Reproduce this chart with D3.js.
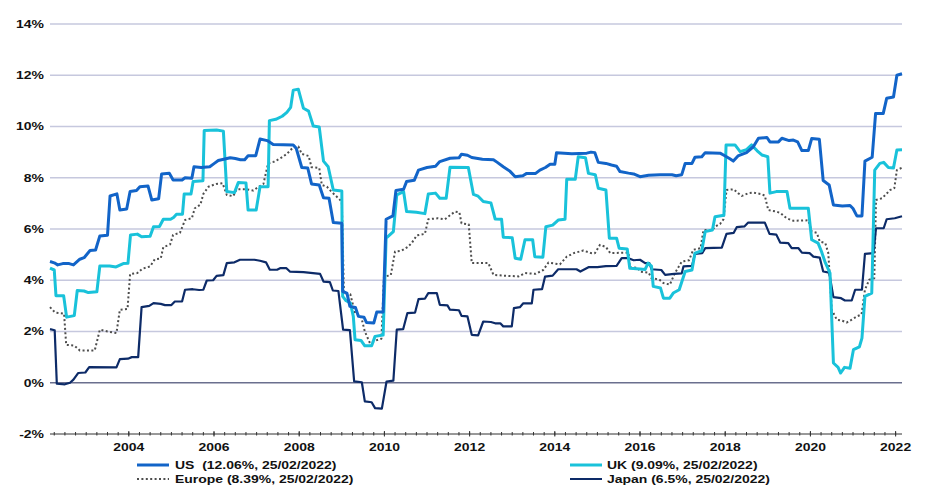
<!DOCTYPE html>
<html>
<head>
<meta charset="utf-8">
<script src="https://cdn.jsdelivr.net/npm/d3@7"></script>
<style>
  html,body{margin:0;padding:0;background:#fff;}
  svg{display:block;}
  text{font-family:"Liberation Sans",Arial,sans-serif;font-weight:bold;fill:#111;white-space:pre;}
</style>
</head>
<body>
<svg id="chart" width="939" height="502"></svg>
<script>
// ---- data (decimal year, % value) ----
const yTicks = [-2, 0, 2, 4, 6, 8, 10, 12, 14];
const xTickYears = [2004, 2006, 2008, 2010, 2012, 2014, 2016, 2018, 2020, 2022];
const seriesNames = ["US", "UK", "Europe", "Japan"];
const legendLabels = ["US  (12.06%, 25/02/2022)", "UK (9.09%, 25/02/2022)", "Europe (8.39%, 25/02/2022)", "Japan (6.5%, 25/02/2022)"];

const US = [[2002.15,4.73],[2002.25,4.68],[2002.33,4.60],[2002.45,4.65],[2002.60,4.65],[2002.70,4.60],[2002.85,4.82],[2002.95,4.88],[2003.09,5.16],[2003.22,5.18],[2003.32,5.73],[2003.50,5.76],[2003.56,7.29],[2003.72,7.37],[2003.79,6.74],[2003.95,6.78],[2004.03,7.46],[2004.18,7.50],[2004.26,7.65],[2004.45,7.68],[2004.54,7.13],[2004.70,7.18],[2004.77,8.15],[2004.95,8.18],[2005.04,7.91],[2005.25,7.91],[2005.32,8.00],[2005.48,7.98],[2005.53,8.43],[2005.70,8.40],[2005.90,8.43],[2006.00,8.55],[2006.10,8.67],[2006.38,8.78],[2006.50,8.75],[2006.62,8.70],[2006.72,8.70],[2006.80,8.86],[2006.98,8.86],[2007.08,9.51],[2007.25,9.45],[2007.39,9.30],[2007.86,9.28],[2007.93,9.15],[2008.06,8.40],[2008.20,8.38],[2008.29,7.76],[2008.47,7.72],[2008.57,7.22],[2008.70,7.20],[2008.80,6.25],[2009.00,6.22],[2009.02,3.56],[2009.12,3.50],[2009.19,2.98],[2009.32,2.94],[2009.39,2.59],[2009.52,2.56],[2009.58,2.35],[2009.75,2.33],[2009.82,2.76],[2009.97,2.76],[2010.04,6.38],[2010.20,6.51],[2010.27,7.50],[2010.45,7.55],[2010.52,7.85],[2010.70,7.90],[2010.80,8.30],[2011.00,8.40],[2011.20,8.45],[2011.30,8.63],[2011.54,8.76],[2011.75,8.78],[2011.81,8.92],[2011.95,8.88],[2012.05,8.79],[2012.30,8.72],[2012.56,8.70],[2012.65,8.60],[2012.79,8.43],[2012.95,8.25],[2013.07,8.04],[2013.25,8.08],[2013.34,8.17],[2013.55,8.17],[2013.65,8.30],[2013.78,8.40],[2013.89,8.53],[2014.00,8.53],[2014.04,8.98],[2014.40,8.94],[2014.75,8.96],[2014.85,9.00],[2014.94,8.98],[2015.02,8.60],[2015.20,8.56],[2015.33,8.50],[2015.45,8.45],[2015.53,8.24],[2015.73,8.18],[2015.85,8.15],[2016.00,8.04],[2016.20,8.10],[2016.47,8.12],[2016.75,8.12],[2016.85,8.08],[2016.98,8.12],[2017.06,8.56],[2017.22,8.56],[2017.29,8.80],[2017.45,8.82],[2017.53,8.98],[2017.88,8.96],[2018.00,8.85],[2018.10,8.75],[2018.19,8.65],[2018.30,8.85],[2018.50,8.98],[2018.66,9.21],[2018.78,9.54],[2018.98,9.57],[2019.05,9.40],[2019.25,9.40],[2019.33,9.54],[2019.50,9.45],[2019.60,9.47],[2019.70,9.40],[2019.80,9.06],[2019.95,9.06],[2020.03,9.53],[2020.21,9.50],[2020.30,7.89],[2020.44,7.72],[2020.54,6.94],[2020.75,6.90],[2020.93,6.92],[2021.00,6.80],[2021.09,6.51],[2021.21,6.51],[2021.28,8.65],[2021.45,8.80],[2021.53,10.51],[2021.71,10.51],[2021.79,11.10],[2021.95,11.15],[2022.03,12.00],[2022.15,12.06]];

const UK = [[2002.15,4.47],[2002.25,4.40],[2002.29,3.40],[2002.47,3.40],[2002.54,2.56],[2002.72,2.62],[2002.79,3.60],[2002.95,3.58],[2003.05,3.52],[2003.25,3.55],[2003.32,4.56],[2003.55,4.56],[2003.70,4.52],[2003.87,4.65],[2003.98,4.66],[2004.04,5.77],[2004.20,5.80],[2004.30,5.70],[2004.50,5.72],[2004.58,6.09],[2004.72,6.10],[2004.81,6.38],[2004.98,6.38],[2005.05,6.45],[2005.12,6.58],[2005.26,6.58],[2005.30,7.37],[2005.46,7.37],[2005.51,7.85],[2005.74,7.88],[2005.77,9.84],[2006.06,9.86],[2006.22,9.82],[2006.30,7.46],[2006.48,7.42],[2006.57,7.81],[2006.75,7.80],[2006.80,6.74],[2006.99,6.74],[2007.08,7.65],[2007.27,7.65],[2007.30,10.23],[2007.45,10.28],[2007.60,10.40],[2007.71,10.55],[2007.80,10.75],[2007.86,11.42],[2007.98,11.45],[2008.10,10.71],[2008.22,10.60],[2008.33,10.02],[2008.47,9.98],[2008.57,8.65],[2008.68,8.43],[2008.80,7.52],[2009.00,7.48],[2009.02,3.37],[2009.10,3.20],[2009.20,3.12],[2009.27,2.59],[2009.31,1.68],[2009.45,1.65],[2009.54,1.44],[2009.70,1.44],[2009.78,1.81],[2009.97,1.86],[2010.04,5.64],[2010.21,5.90],[2010.29,7.33],[2010.45,7.46],[2010.52,6.68],[2010.75,6.65],[2010.95,6.60],[2011.03,7.37],[2011.20,7.40],[2011.30,7.20],[2011.45,7.20],[2011.54,8.41],[2011.97,8.40],[2012.09,7.35],[2012.20,7.28],[2012.32,7.07],[2012.50,7.02],[2012.60,6.39],[2012.75,6.38],[2012.79,5.68],[2013.00,5.66],[2013.07,4.86],[2013.20,4.82],[2013.30,5.58],[2013.48,5.58],[2013.53,4.92],[2013.72,4.90],[2013.79,6.09],[2013.95,6.15],[2014.08,6.35],[2014.24,6.38],[2014.28,7.94],[2014.48,7.94],[2014.55,8.82],[2014.72,8.78],[2014.79,8.17],[2014.95,8.12],[2015.02,7.59],[2015.20,7.52],[2015.28,5.64],[2015.45,5.64],[2015.51,5.25],[2015.70,5.22],[2015.76,4.47],[2016.00,4.44],[2016.12,4.42],[2016.19,4.67],[2016.27,4.55],[2016.31,3.76],[2016.48,3.70],[2016.55,3.30],[2016.70,3.30],[2016.78,3.50],[2016.92,3.63],[2017.06,4.34],[2017.22,4.40],[2017.29,5.06],[2017.45,5.15],[2017.53,5.90],[2017.70,5.96],[2017.76,6.48],[2017.97,6.54],[2018.02,9.28],[2018.23,9.28],[2018.35,9.02],[2018.50,9.10],[2018.62,9.28],[2018.75,9.05],[2018.86,8.89],[2019.00,8.82],[2019.05,7.40],[2019.20,7.46],[2019.45,7.46],[2019.52,6.81],[2019.95,6.81],[2020.03,5.58],[2020.18,5.45],[2020.26,5.12],[2020.34,4.73],[2020.46,4.28],[2020.54,0.77],[2020.65,0.60],[2020.71,0.38],[2020.80,0.60],[2020.93,0.57],[2021.01,1.29],[2021.15,1.40],[2021.21,1.74],[2021.28,3.37],[2021.44,3.50],[2021.51,8.30],[2021.63,8.56],[2021.72,8.60],[2021.83,8.40],[2021.95,8.38],[2022.03,9.08],[2022.15,9.09]];

const Europe = [[2002.15,2.95],[2002.27,2.74],[2002.48,2.70],[2002.53,1.48],[2002.72,1.45],[2002.85,1.26],[2003.20,1.26],[2003.32,2.07],[2003.50,2.00],[2003.71,1.94],[2003.79,2.85],[2003.97,2.88],[2004.03,4.24],[2004.20,4.28],[2004.32,4.45],[2004.50,4.54],[2004.61,4.82],[2004.75,4.85],[2004.81,5.29],[2004.97,5.40],[2005.04,5.77],[2005.20,5.85],[2005.32,6.35],[2005.48,6.42],[2005.55,6.81],[2005.68,6.95],[2005.75,7.37],[2005.87,7.65],[2006.05,7.76],[2006.20,7.79],[2006.30,7.33],[2006.45,7.28],[2006.53,7.55],[2006.75,7.55],[2006.92,7.50],[2007.05,7.65],[2007.16,7.76],[2007.27,8.56],[2007.40,8.62],[2007.55,8.75],[2007.71,8.93],[2007.86,9.19],[2007.98,9.22],[2008.06,8.93],[2008.22,8.85],[2008.29,8.41],[2008.47,8.38],[2008.53,7.72],[2008.65,7.65],[2008.76,7.45],[2008.92,7.20],[2009.00,7.07],[2009.05,3.50],[2009.20,3.45],[2009.31,2.72],[2009.45,2.60],[2009.54,2.00],[2009.66,1.55],[2009.80,1.65],[2009.93,1.72],[2009.99,4.14],[2010.15,4.20],[2010.25,5.12],[2010.40,5.15],[2010.55,5.30],[2010.64,5.45],[2010.76,5.75],[2010.95,5.81],[2011.03,6.38],[2011.25,6.42],[2011.42,6.38],[2011.55,6.55],[2011.66,6.68],[2011.76,6.65],[2011.81,6.22],[2011.98,6.18],[2012.05,4.67],[2012.44,4.67],[2012.56,4.21],[2012.80,4.18],[2013.15,4.15],[2013.30,4.28],[2013.55,4.25],[2013.73,4.40],[2013.85,4.69],[2014.12,4.62],[2014.28,4.92],[2014.45,5.06],[2014.67,5.16],[2014.85,5.06],[2014.94,5.05],[2015.06,5.38],[2015.20,5.30],[2015.30,5.06],[2015.73,5.08],[2015.76,4.51],[2015.95,4.48],[2016.00,4.34],[2016.20,4.30],[2016.27,4.08],[2016.45,4.03],[2016.55,3.89],[2016.70,3.83],[2016.82,4.28],[2016.98,4.73],[2017.15,4.78],[2017.25,5.19],[2017.42,5.25],[2017.49,5.96],[2017.70,5.96],[2017.76,6.09],[2017.88,6.20],[2017.96,6.38],[2018.03,7.52],[2018.20,7.55],[2018.30,7.40],[2018.39,7.29],[2018.55,7.40],[2018.66,7.42],[2018.85,7.36],[2018.93,7.30],[2019.01,6.74],[2019.20,6.68],[2019.30,6.62],[2019.44,6.42],[2019.60,6.32],[2019.95,6.34],[2020.03,5.90],[2020.15,5.85],[2020.22,5.51],[2020.35,5.45],[2020.42,5.06],[2020.50,2.85],[2020.62,2.46],[2020.75,2.42],[2020.85,2.35],[2020.97,2.46],[2021.09,2.59],[2021.20,2.66],[2021.28,3.63],[2021.38,4.02],[2021.50,4.08],[2021.54,7.13],[2021.68,7.20],[2021.76,7.33],[2021.87,7.52],[2021.97,7.60],[2022.03,8.30],[2022.15,8.39]];

const Japan = [[2002.15,2.09],[2002.26,2.05],[2002.31,-0.04],[2002.50,-0.06],[2002.62,0.00],[2002.70,0.12],[2002.81,0.38],[2002.98,0.40],[2003.07,0.61],[2003.71,0.60],[2003.79,0.92],[2003.98,0.94],[2004.07,1.00],[2004.22,1.00],[2004.30,2.95],[2004.48,3.00],[2004.58,3.11],[2004.75,3.08],[2004.85,3.03],[2005.00,3.03],[2005.08,3.17],[2005.25,3.17],[2005.32,3.63],[2005.50,3.65],[2005.65,3.62],[2005.75,3.63],[2005.83,3.99],[2005.98,4.00],[2006.06,4.17],[2006.22,4.20],[2006.30,4.67],[2006.48,4.70],[2006.61,4.80],[2006.95,4.80],[2007.08,4.76],[2007.22,4.70],[2007.31,4.41],[2007.48,4.41],[2007.55,4.47],[2007.70,4.47],[2007.78,4.34],[2008.10,4.32],[2008.49,4.25],[2008.57,3.95],[2008.72,3.93],[2008.79,3.60],[2008.92,3.58],[2009.03,2.07],[2009.19,2.05],[2009.29,0.05],[2009.47,0.02],[2009.54,-0.73],[2009.70,-0.76],[2009.78,-0.99],[2009.94,-1.01],[2010.05,0.05],[2010.21,0.08],[2010.29,2.07],[2010.44,2.09],[2010.54,2.72],[2010.72,2.74],[2010.80,3.26],[2010.95,3.28],[2011.03,3.50],[2011.23,3.50],[2011.30,3.04],[2011.48,3.02],[2011.54,2.85],[2011.75,2.83],[2011.81,2.61],[2011.95,2.59],[2012.05,1.87],[2012.20,1.85],[2012.32,2.39],[2012.50,2.37],[2012.60,2.32],[2012.72,2.32],[2012.79,2.20],[2012.99,2.20],[2013.04,2.91],[2013.18,2.95],[2013.26,3.10],[2013.46,3.10],[2013.50,3.63],[2013.70,3.65],[2013.77,4.14],[2013.95,4.18],[2014.08,4.43],[2014.51,4.43],[2014.60,4.34],[2014.79,4.51],[2015.00,4.51],[2015.20,4.55],[2015.45,4.56],[2015.57,4.86],[2015.73,4.86],[2015.85,4.78],[2016.00,4.80],[2016.12,4.67],[2016.22,4.67],[2016.27,4.43],[2016.50,4.40],[2016.59,4.21],[2016.80,4.25],[2016.98,4.27],[2017.02,4.54],[2017.22,4.56],[2017.29,5.03],[2017.46,5.06],[2017.53,5.25],[2017.92,5.27],[2018.03,5.81],[2018.20,5.85],[2018.27,6.07],[2018.45,6.10],[2018.54,6.25],[2018.93,6.25],[2019.04,5.81],[2019.20,5.78],[2019.29,5.47],[2019.48,5.45],[2019.56,5.25],[2019.72,5.25],[2019.80,5.08],[2019.98,5.06],[2020.07,4.92],[2020.22,4.88],[2020.30,4.34],[2020.44,4.30],[2020.54,3.34],[2020.72,3.30],[2020.81,3.21],[2020.97,3.21],[2021.05,3.63],[2021.21,3.63],[2021.28,5.03],[2021.48,5.06],[2021.54,6.03],[2021.72,6.03],[2021.79,6.38],[2021.98,6.42],[2022.15,6.50]];

// ---- layout / styles ----
const seriesData = {US, UK, Europe, Japan};
const styles = {
  US:     {color:"#1264c8", width:3,   dash:null},
  UK:     {color:"#19c2da", width:3,   dash:null},
  Europe: {color:"#4d4d4d", width:2,   dash:"2,2.4"},
  Japan:  {color:"#0d2b68", width:2.2, dash:null}
};
const drawOrder = ["Europe", "Japan", "UK", "US"];
const SX = 1.27; // horizontal text stretch of the original

const svg = d3.select("#chart");
const x = d3.scaleLinear().domain([2002.15, 2022.15]).range([50, 902]);
const y = d3.scaleLinear().domain([-2, 14]).range([434, 24]);

// gridlines
svg.append("g").selectAll("line").data(yTicks.filter(d => d > -2)).join("line")
  .attr("x1", 50).attr("x2", 902)
  .attr("y1", d => y(d)).attr("y2", d => y(d))
  .attr("stroke", d => d === 0 ? "#6a6f8e" : "#c6c8de")
  .attr("stroke-width", d => d === 0 ? 1.3 : 1.7);

// y labels
svg.append("g").selectAll("text").data(yTicks).join("text")
  .attr("transform", d => `translate(44,${y(d)}) scale(${SX},1)`)
  .attr("text-anchor", "end").attr("dy", "0.36em")
  .style("font-size", "11px")
  .text(d => d + "%");

// x axis line + ticks
svg.append("line").attr("x1", 50).attr("x2", 902).attr("y1", y(-2)).attr("y2", y(-2))
  .attr("stroke", "#333").attr("stroke-width", 1);
const minor = d3.range(2002.25, 2022.2, 0.25);
svg.append("g").selectAll("line").data(minor).join("line")
  .attr("x1", d => x(d)).attr("x2", d => x(d))
  .attr("y1", y(-2) - 2).attr("y2", y(-2) + 1.5)
  .attr("stroke", "#333").attr("stroke-width", 1);
svg.append("g").selectAll("line").data(xTickYears).join("line")
  .attr("x1", d => x(d)).attr("x2", d => x(d))
  .attr("y1", y(-2) - 3).attr("y2", y(-2) + 2.5)
  .attr("stroke", "#333").attr("stroke-width", 1);
svg.append("g").selectAll("text").data(xTickYears).join("text")
  .attr("transform", d => `translate(${x(d)},451) scale(${SX},1)`)
  .attr("text-anchor", "middle")
  .style("font-size", "11px")
  .text(d => d);

// lines
const line = d3.line().x(d => x(d[0])).y(d => y(d[1]));
drawOrder.forEach(name => {
  const s = styles[name];
  svg.append("path").datum(seriesData[name])
    .attr("d", line).attr("fill", "none")
    .attr("stroke", s.color).attr("stroke-width", s.width)
    .attr("stroke-linejoin", "round")
    .attr("stroke-dasharray", s.dash);
});

// legend
const legendPos = [
  {sx:137, tx:175, y:465}, {sx:570, tx:607, y:465},
  {sx:137, tx:175, y:479}, {sx:570, tx:607, y:479}
];
seriesNames.forEach((name, i) => {
  const p = legendPos[i], s = styles[name];
  svg.append("line").attr("x1", p.sx).attr("x2", p.sx + 32)
    .attr("y1", p.y).attr("y2", p.y)
    .attr("stroke", s.color).attr("stroke-width", name === "US" || name === "UK" ? 3 : 2)
    .attr("stroke-dasharray", s.dash);
  svg.append("text")
    .attr("xml:space", "preserve")
    .attr("transform", `translate(${p.tx},${p.y}) scale(${SX},1)`)
    .attr("dy", "0.36em").style("font-size", "11px")
    .text(legendLabels[i]);
});
</script>
</body>
</html>
